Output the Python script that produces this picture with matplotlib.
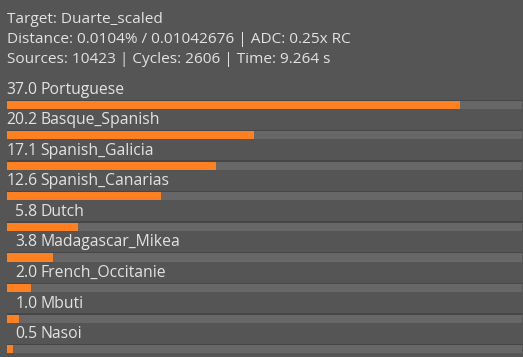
import matplotlib.pyplot as plt

names = ["Portuguese", "Basque_Spanish", "Spanish_Galicia", "Spanish_Canarias",
         "Dutch", "Madagascar_Mikea", "French_Occitanie", "Mbuti", "Nasoi"]
values = [37.0, 20.2, 17.1, 12.6, 5.8, 3.8, 2.0, 1.0, 0.5]
header = ["Target: Duarte_scaled",
          "Distance: 0.0104% / 0.01042676 | ADC: 0.25x RC",
          "Sources: 10423 | Cycles: 2606 | Time: 9.264 s"]

bg = "#555555"
txt = "#e2e2e2"
orange = "#ff8020"
W, H = 523, 357

plt.rcParams['font.family'] = ['Open Sans', 'DejaVu Sans']
fig = plt.figure(figsize=(W / 100, H / 100), dpi=100, facecolor=bg)

# axes spans the bar track horizontally (px 7..522), whole height
ax = fig.add_axes([7 / W, 0, 515 / W, 1])
ax.set_facecolor(bg)
xmax = 42.1
ax.set_xlim(0, xmax)
row = 30.5
ax.set_ylim((H - 105) / row, -105 / row)
ax.axis('off')

ypos = list(range(len(values)))
px = 1 / row
# track: dark top edge + grey body
ax.barh([y - 0.75 * px for y in ypos], [xmax] * len(values), height=9.5 * px,
        left=0, color="#464646", align='center')
ax.barh(ypos, [xmax] * len(values), height=8 * px, color="#676767")
ax.barh(ypos, values, height=8 * px, color=orange)

unit = xmax / 515
for y, n, v in zip(ypos, names, values):
    ax.text(30.5 * unit, y - 15 * px, f"{v:.1f}", ha='right', va='center',
            color=txt, fontsize=11.3, clip_on=False)
    ax.text(33 * unit, y - 15 * px, n, ha='left', va='center',
            color=txt, fontsize=11.3, clip_on=False)

for i, line in enumerate(header):
    fig.text(7 / W, 1 - (19.5 + 20 * i) / H, line, ha='left', va='center',
             color=txt, fontsize=11.1)

fig.savefig("out.png", dpi=100, facecolor=bg)
